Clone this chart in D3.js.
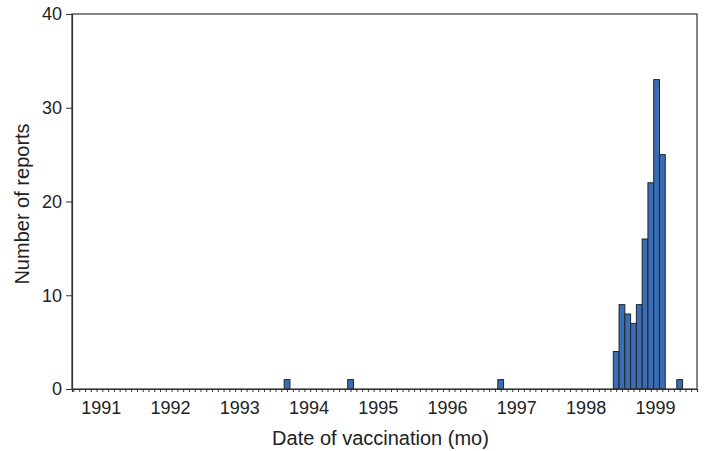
<!DOCTYPE html>
<html>
<head>
<meta charset="utf-8">
<script src="https://d3js.org/d3.v7.min.js"></script>
<style>
  body { margin: 0; background: #fff; }
  text { font-family: "Liberation Sans", Arial, Helvetica, sans-serif; fill: #222; }
</style>
</head>
<body>
<div id="chart"></div>
<script>
// report counts by month of vaccination
var months = ["1993-08", "1994-07", "1996-09", "1998-05", "1998-06", "1998-07", "1998-08",
              "1998-09", "1998-10", "1998-11", "1998-12", "1999-01", "1999-04"];
var reports = [1, 1, 1, 4, 9, 8, 7, 9, 16, 22, 33, 25, 1];
var yearLabels = ["1991", "1992", "1993", "1994", "1995", "1996", "1997", "1998", "1999"];
var yTicks = [0, 10, 20, 30, 40];

var W = 712, H = 451;
var margin = { top: 14, right: 15, bottom: 62, left: 72 },
    width = W - margin.left - margin.right,
    height = H - margin.top - margin.bottom;

// month index counted from Jan 1991
function monthIndex(s) {
    var p = s.split("-");
    return (+p[0] - 1991) * 12 + (+p[1] - 1);
}

var svg = d3.select("#chart").append("svg")
    .attr("width", W)
    .attr("height", H)
    .append("g")
    .attr("transform", "translate(" + margin.left + "," + margin.top + ")");

var x = d3.scaleLinear().domain([-5.75, 102.5]).range([0, width]);
var y = d3.scaleLinear().domain([0, 40]).range([height, 0]);

// bars
svg.selectAll("rect.bar")
    .data(months)
    .enter()
    .append("rect")
    .attr("class", "bar")
    .attr("x", function (d) { return x(monthIndex(d)); })
    .attr("width", function (d) { return x(monthIndex(d) + 1) - x(monthIndex(d)); })
    .attr("y", function (d, i) { return y(reports[i]); })
    .attr("height", function (d, i) { return height - y(reports[i]); })
    .attr("fill", "#3a6db4")
    .attr("stroke", "#1e2530")
    .attr("stroke-width", 1);

// frame
svg.append("rect")
    .attr("x", 0).attr("y", 0)
    .attr("width", width).attr("height", height)
    .attr("fill", "none")
    .attr("stroke", "#333")
    .attr("stroke-width", 1.2);

// x axis: a tick for every month
var monthTicks = d3.range(-6, 102).map(function (m) { return m + 0.5; });
var xAxis = svg.append("g")
    .attr("transform", "translate(0," + height + ")")
    .call(d3.axisBottom(x).tickValues(monthTicks).tickSize(3).tickFormat(""));
xAxis.select(".domain").attr("stroke", "#333").attr("stroke-width", 1.2);
xAxis.selectAll(".tick line").attr("stroke", "#333");

svg.append("g").selectAll("text")
    .data(yearLabels)
    .enter()
    .append("text")
    .attr("x", function (d) { return x((+d - 1991) * 12 - 0.7); })
    .attr("y", height + 25)
    .attr("text-anchor", "middle")
    .style("font-size", "18px")
    .text(function (d) { return d; });

// y axis
var yAxis = svg.append("g")
    .call(d3.axisLeft(y).tickValues(yTicks).tickSize(6).tickPadding(4));
yAxis.select(".domain").attr("stroke", "#333").attr("stroke-width", 1.2);
yAxis.selectAll(".tick line").attr("stroke", "#333");
yAxis.selectAll(".tick text").style("font-size", "18px").style("fill", "#222")
    .style("font-family", "'Liberation Sans', Arial, sans-serif");

// axis titles
svg.append("text")
    .attr("x", width / 2 - 4)
    .attr("y", height + 56)
    .attr("text-anchor", "middle")
    .style("font-size", "20px")
    .text("Date of vaccination (mo)");

svg.append("text")
    .attr("transform", "rotate(-90)")
    .attr("x", -190)
    .attr("y", -43)
    .attr("text-anchor", "middle")
    .style("font-size", "20px")
    .text("Number of reports");
</script>
</body>
</html>
